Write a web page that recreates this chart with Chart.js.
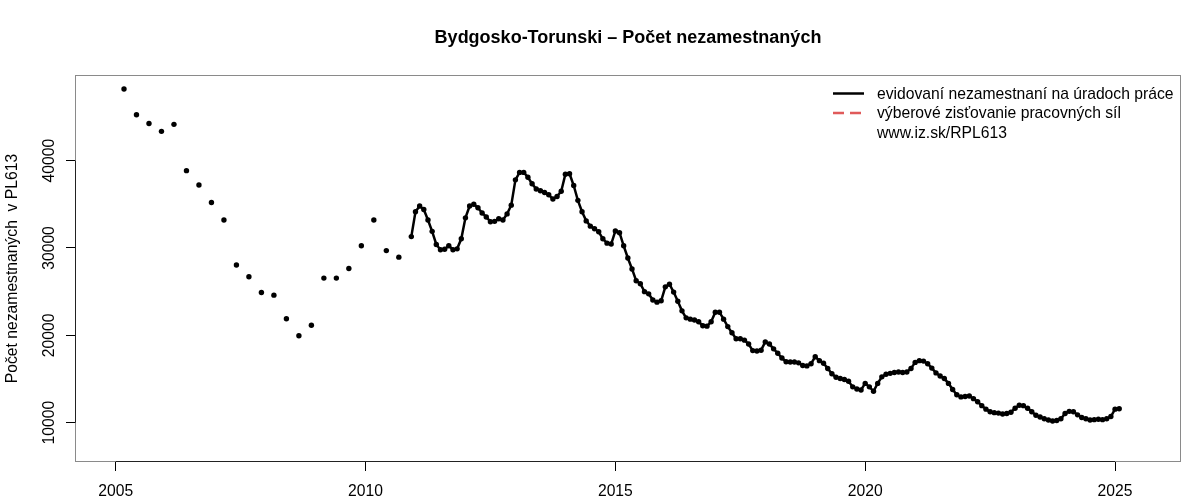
<!DOCTYPE html>
<html>
<head>
<meta charset="utf-8">
<script src="https://cdn.jsdelivr.net/npm/chart.js@4.4.1/dist/chart.umd.min.js"></script>
<style>
  html, body { margin: 0; padding: 0; background: #fff; }
  #wrap { width: 1200px; height: 500px; }
</style>
</head>
<body>
<div id="wrap"><canvas id="chart" width="1200" height="500"></canvas></div>
<script>
// older quarterly figures, drawn as dots only
const quarterLabels = [
  '2005 Q1', '2005 Q2', '2005 Q3', '2005 Q4',
  '2006 Q1', '2006 Q2', '2006 Q3', '2006 Q4',
  '2007 Q1', '2007 Q2', '2007 Q3', '2007 Q4',
  '2008 Q1', '2008 Q2', '2008 Q3', '2008 Q4',
  '2009 Q1', '2009 Q2', '2009 Q3', '2009 Q4',
  '2010 Q1', '2010 Q2', '2010 Q3'
];
const quarterValues = [
  48200, 45250, 44250, 43350,
  44150, 38850, 37200, 35200,
  33200, 28050, 26700, 24900,
  24600, 21900, 19950, 21150,
  26550, 26550, 27650, 30250,
  33200, 29700, 28950
];

// registered unemployed, monthly, first value = Nov 2010
const monthStart = { year: 2010, month: 11 };
const monthValues = [
  31300, 34150, 34800, 34400, 33200, 31900, 30400, 29800, 29850, 30250, 29800, 29900,
  31050, 33450, 34800, 35000, 34600, 34000, 33550, 33000, 33050, 33350, 33200, 33900,
  34900, 37800, 38650, 38650, 38100, 37350, 36750, 36550, 36350, 36100, 35600, 35900,
  36500, 38450, 38500, 37150, 35450, 34150, 33100, 32500, 32200, 31850, 31050, 30550,
  30450, 31950, 31750, 30250, 28850, 27600, 26250, 25900, 25000, 24750, 24050, 23800,
  23950, 25550, 25850, 24950, 23900, 22800, 22000, 21850, 21750, 21550, 21100, 21050,
  21550, 22650, 22650, 21850, 21000, 20300, 19600, 19600, 19450, 19000, 18250, 18200,
  18300, 19250, 19000, 18450, 17950, 17400, 16980, 16950, 16950, 16850, 16550, 16500,
  16750, 17550, 17100, 16800, 16200, 15600, 15200, 15050, 14950, 14750, 14100, 13850,
  13750, 14500, 14100, 13600, 14500, 15250, 15550, 15650, 15750, 15800, 15750, 15800,
  16200, 16900, 17100, 17050, 16750, 16250, 15700, 15350, 15050, 14500, 13800, 13200,
  12950, 13000, 13050, 12750, 12400, 11950, 11550, 11250, 11150, 11100, 11000, 11050,
  11200, 11650, 12000, 11950, 11650, 11250, 10850, 10650, 10450, 10300, 10200, 10250,
  10450, 11050, 11300, 11250, 10900, 10600, 10450, 10300, 10350, 10400, 10350, 10450,
  10700, 11550, 11600
];

const xTicks = [2005, 2010, 2015, 2020, 2025];
const yTicks = [10000, 20000, 30000, 40000];

const legendItems = [
  { text: 'evidovaní nezamestnaní na úradoch práce', color: '#000', dash: [] },
  { text: 'výberové zisťovanie pracovných síl', color: '#E05A5A', dash: [11, 6] },
  { text: 'www.iz.sk/RPL613', color: null, dash: [] }
];

const FONT = "'Liberation Sans', Arial, Helvetica, sans-serif";
const TXT = 15.7;

// quarter -> middle month of the quarter, months as year + month/12
const quarterPoints = quarterLabels.map((q, i) => {
  const year = parseInt(q.slice(0, 4));
  const qn = parseInt(q.slice(6));
  return { x: year + (3 * qn - 1) / 12, y: quarterValues[i] };
});
const monthPoints = monthValues.map((v, i) => ({
  x: monthStart.year + (monthStart.month + i) / 12,
  y: v
}));

// box around the plot + axis line from first to last tick, like R
const boxPlugin = {
  id: 'box',
  beforeDatasetsDraw(chart) {
    const { ctx, chartArea: ca, scales } = chart;
    ctx.save();
    ctx.lineWidth = 1;
    ctx.strokeStyle = '#8a8a8a';
    ctx.strokeRect(ca.left + 0.5, ca.top + 0.5, ca.right - ca.left - 1, ca.bottom - ca.top - 1);
    ctx.strokeStyle = '#222';
    ctx.beginPath();
    ctx.moveTo(scales.x.getPixelForValue(xTicks[0]), ca.bottom - 0.5);
    ctx.lineTo(scales.x.getPixelForValue(xTicks[xTicks.length - 1]), ca.bottom - 0.5);
    ctx.moveTo(ca.left + 0.5, scales.y.getPixelForValue(yTicks[0]));
    ctx.lineTo(ca.left + 0.5, scales.y.getPixelForValue(yTicks[yTicks.length - 1]));
    ctx.stroke();
    ctx.restore();
  }
};

const legendPlugin = {
  id: 'rLegend',
  afterDraw(chart) {
    const ctx = chart.ctx;
    ctx.save();
    ctx.font = TXT + 'px ' + FONT;
    ctx.textBaseline = 'middle';
    ctx.fillStyle = '#000';
    legendItems.forEach((it, i) => {
      const y = 93.5 + i * 19.5;
      if (it.color) {
        ctx.strokeStyle = it.color;
        ctx.lineWidth = 2.5;
        ctx.setLineDash(it.dash);
        ctx.beginPath();
        ctx.moveTo(833, y);
        ctx.lineTo(864, y);
        ctx.stroke();
        ctx.setLineDash([]);
      }
      ctx.fillText(it.text, 877, y + 1);
    });
    ctx.restore();
  }
};

const ctx = document.getElementById('chart').getContext('2d');
new Chart(ctx, {
  type: 'scatter',
  data: {
    datasets: [
      {
        label: 'quarterly',
        data: quarterPoints,
        showLine: false,
        pointRadius: 2.7,
        pointBackgroundColor: '#000',
        borderColor: '#000',
        pointBorderWidth: 0
      },
      {
        label: 'evidovaní nezamestnaní na úradoch práce',
        data: monthPoints,
        showLine: true,
        borderColor: '#000',
        borderWidth: 2.5,
        pointRadius: 2.7,
        pointBackgroundColor: '#000',
        pointBorderWidth: 0,
        tension: 0
      }
    ]
  },
  options: {
    responsive: false,
    animation: false,
    layout: { padding: { left: 0, right: 19, top: 0, bottom: 0 } },
    plugins: {
      legend: { display: false },
      tooltip: { enabled: false },
      title: {
        display: true,
        fullSize: false,
        text: 'Bydgosko-Torunski – Počet nezamestnaných',
        color: '#000',
        font: { family: FONT, size: 18, weight: 'bold' },
        padding: { top: 27, bottom: 26.4 }
      }
    },
    scales: {
      x: {
        type: 'linear',
        min: 2004.186,
        max: 2026.32,
        afterBuildTicks: s => { s.ticks = xTicks.map(v => ({ value: v })); },
        afterFit: s => { s.height = 38; },
        ticks: {
          callback: v => String(v),
          color: '#000',
          font: { family: FONT, size: TXT },
          padding: 11,
          maxRotation: 0
        },
        grid: { drawOnChartArea: false, drawTicks: true, tickLength: 9, color: '#000' },
        border: { display: false }
      },
      y: {
        min: 5500,
        max: 49800,
        afterBuildTicks: s => { s.ticks = yTicks.map(v => ({ value: v })); },
        afterFit: s => { s.width = 75; },
        ticks: {
          callback: v => String(v),
          color: '#000',
          font: { family: FONT, size: TXT },
          minRotation: 90,
          maxRotation: 90,
          crossAlign: 'center',
          padding: -5
        },
        grid: { drawOnChartArea: false, drawTicks: true, tickLength: 9, color: '#000' },
        border: { display: false },
        title: {
          display: true,
          text: 'Počet nezamestnaných  v PL613',
          color: '#000',
          font: { family: FONT, size: TXT },
          padding: { top: 3, bottom: 0 }
        }
      }
    }
  },
  plugins: [boxPlugin, legendPlugin]
});
</script>
</body>
</html>
